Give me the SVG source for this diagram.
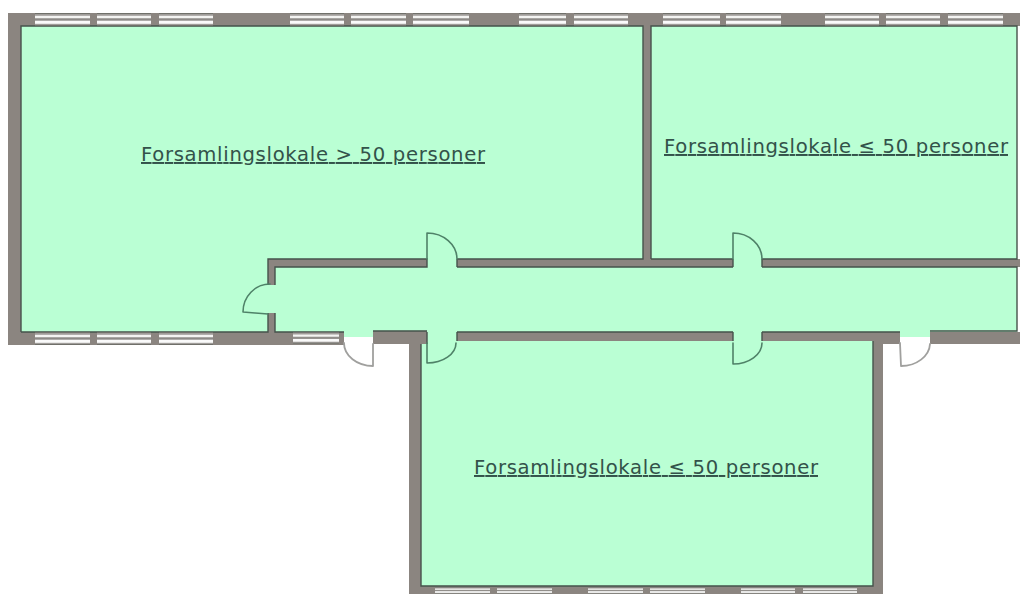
<svg xmlns="http://www.w3.org/2000/svg" xmlns:xlink="http://www.w3.org/1999/xlink" width="1020" height="594" viewBox="0 0 1020 594">
<style>
.g{fill:#baffd4}
.w{fill:#8b8580}
.wl{fill:none;stroke:#46534b;stroke-width:1.4}
.d{fill:none;stroke:#4f8268;stroke-width:1.6;stroke-linecap:round;stroke-linejoin:round}
.dw{fill:none;stroke:#a0a09e;stroke-width:1.8;stroke-linecap:round;stroke-linejoin:round}
.t{font-family:"DejaVu Sans",Verdana,sans-serif;font-size:19.6px;fill:#33524a;text-decoration:underline;text-decoration-skip-ink:none}
</style>
<defs>
<filter id="soft" x="-2%" y="-2%" width="104%" height="104%"><feGaussianBlur stdDeviation="0.55"/></filter>
<g id="win">
<rect width="100" height="13" fill="#a09d9a"/>
<rect y="0" width="100" height="1" fill="#6f6f6a"/>
<rect y="2.8" width="100" height="2.4" fill="#f4f4f2"/>
<rect y="5.8" width="100" height="1.4" fill="#8d8a87"/>
<rect y="7.8" width="100" height="3" fill="#fafafa"/>
<rect y="12" width="100" height="1" fill="#6f6f6a"/>
</g>
</defs>
<rect width="1020" height="594" fill="#fff"/>
<g id="floor">
<path class="g" d="M21 26H1017V332H930V337H900V332H762V345H733V332H457V345H427V332H373V337H344V332H21Z"/>
<rect class="g" x="421" y="340" width="452" height="246"/>
</g>
<g filter="url(#soft)">
<g id="walls">
<rect class="w" x="8" y="13" width="1012" height="13"/>
<rect class="w" x="8" y="13" width="13" height="332"/>
<rect class="w" x="8" y="332" width="336" height="13"/>
<rect class="w" x="268" y="259" width="159" height="8"/>
<rect class="w" x="268" y="259" width="7" height="26"/>
<rect class="w" x="268" y="313" width="7" height="20"/>
<rect class="w" x="457" y="259" width="276" height="8"/>
<rect class="w" x="643" y="26" width="8" height="240"/>
<rect class="w" x="762" y="259" width="258" height="8"/>
<rect class="w" x="373" y="331" width="54" height="13"/>
<rect class="w" x="457" y="332" width="276" height="9"/>
<rect class="w" x="762" y="332" width="111" height="9"/>
<rect class="w" x="873" y="332" width="27" height="12"/>
<rect class="w" x="930" y="332" width="90" height="12"/>
<rect class="w" x="409" y="343" width="12" height="251"/>
<rect class="w" x="873" y="341" width="10" height="253"/>
<rect class="w" x="409" y="586" width="474" height="8"/>
<path class="wl" d="M21 332V26H643V259H457M651 259V26H1017V259H762M733 259H651M457 267H733M275 285V267H427V259H268V285M762 267H1017V331H930M900 332H762M733 332H457M427 331H373M344 332H275V313M268 313V332H21M421 344V586H873V341M457 267V259M733 267V259M762 267V259M427 332V344M457 332V341M733 332V341M762 332V341"/>
</g>
<g id="windows">
<use xlink:href="#win" transform="translate(35,13) scale(.55,1)"/>
<use xlink:href="#win" transform="translate(97,13) scale(.54,1)"/>
<use xlink:href="#win" transform="translate(159,13) scale(.54,1)"/>
<use xlink:href="#win" transform="translate(290,13) scale(.54,1)"/>
<use xlink:href="#win" transform="translate(351,13) scale(.55,1)"/>
<use xlink:href="#win" transform="translate(413,13) scale(.56,1)"/>
<use xlink:href="#win" transform="translate(519,13) scale(.47,1)"/>
<use xlink:href="#win" transform="translate(574,13) scale(.54,1)"/>
<use xlink:href="#win" transform="translate(663,13) scale(.57,1)"/>
<use xlink:href="#win" transform="translate(726,13) scale(.55,1)"/>
<use xlink:href="#win" transform="translate(825,13) scale(.54,1)"/>
<use xlink:href="#win" transform="translate(886,13) scale(.54,1)"/>
<use xlink:href="#win" transform="translate(948,13) scale(.55,1)"/>
<use xlink:href="#win" transform="translate(35,332) scale(.55,1)"/>
<use xlink:href="#win" transform="translate(97,332) scale(.54,1)"/>
<use xlink:href="#win" transform="translate(159,332) scale(.54,1)"/>
<use xlink:href="#win" transform="translate(293,332) scale(.46,.9)"/>
<use xlink:href="#win" transform="translate(435,587) scale(.55,.54)"/>
<use xlink:href="#win" transform="translate(497,587) scale(.55,.54)"/>
<use xlink:href="#win" transform="translate(588,587) scale(.55,.54)"/>
<use xlink:href="#win" transform="translate(650,587) scale(.55,.54)"/>
<use xlink:href="#win" transform="translate(741,587) scale(.54,.54)"/>
<use xlink:href="#win" transform="translate(803,587) scale(.54,.54)"/>
</g>
<g id="doors">
<path class="d" d="M427 259V233A30 26 0 0 1 457 259"/>
<path class="d" d="M427 343V363A29 20 0 0 0 456 343"/>
<path class="d" d="M733 259V233A29 26 0 0 1 762 259"/>
<path class="d" d="M733 343V364A29 21 0 0 0 762 343"/>
<path class="d" d="M270 284A27 28 0 0 0 243 312L268 314"/>
<path class="dw" d="M344 343A29 23 0 0 0 373 366V344"/>
<path class="dw" d="M900 343L901 366A29 23 0 0 0 930 344"/>
</g>
</g>
<g id="labels">
<text class="t" x="141" y="161" textLength="344">Forsamlingslokale &gt; 50 personer</text>
<text class="t" x="664" y="153" textLength="344">Forsamlingslokale ≤ 50 personer</text>
<text class="t" x="474" y="474" textLength="344">Forsamlingslokale ≤ 50 personer</text>
</g>
</svg>
